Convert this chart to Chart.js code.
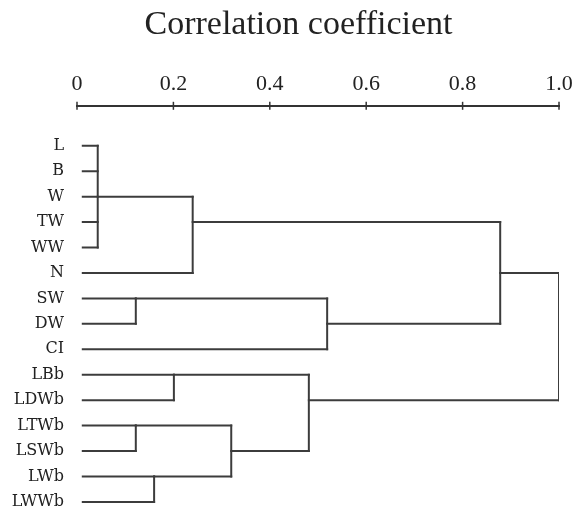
<!DOCTYPE html>
<html>
<head>
<meta charset="utf-8">
<script src="https://cdn.jsdelivr.net/npm/chart.js@4"></script>
<style>
  html, body { margin: 0; background: #fff; }
  #wrap { width: 576px; height: 511px; }
</style>
</head>
<body>
<div id="wrap"><canvas id="dendro"></canvas></div>
<script>
// leaves, top to bottom
const leaves = ['L', 'B', 'W', 'TW', 'WW', 'N', 'SW', 'DW', 'CI', 'LBb', 'LDWb', 'LTWb', 'LSWb', 'LWb', 'LWWb'];
const leafStart = 0.012;

// merges, in order; children are leaf names or earlier merge names
const clusterNames = ['n1', 'n2', 'n3', 'n4', 'n5', 'n6', 'n7', 'n8', 'n9', 'n10', 'n11'];
const clusterChildren = [
  ['L', 'B', 'W', 'TW', 'WW'],
  ['n1', 'N'],
  ['SW', 'DW'],
  ['n3', 'CI'],
  ['n2', 'n4'],
  ['LBb', 'LDWb'],
  ['LTWb', 'LSWb'],
  ['LWb', 'LWWb'],
  ['n7', 'n8'],
  ['n6', 'n9'],
  ['n5', 'n10']
];
const clusterHeights = [0.043, 0.240, 0.122, 0.519, 0.878, 0.201, 0.122, 0.160, 0.320, 0.481, 1.0];

const xTicks = [0, 0.2, 0.4, 0.6, 0.8, 1.0];
const xTickLabels = ['0', '0.2', '0.4', '0.6', '0.8', '1.0'];

// build the bracket segments
const row = {}, height = {};
leaves.forEach((name, i) => { row[name] = i; height[name] = leafStart; });
const segments = [];
clusterNames.forEach((name, k) => {
  const kids = clusterChildren[k];
  const h = clusterHeights[k];
  const rows = kids.map(c => row[c]);
  kids.forEach(c => segments.push([{ x: height[c], y: row[c] }, { x: h, y: row[c] }]));
  const lo = Math.min(...rows), hi = Math.max(...rows);
  segments.push([{ x: h, y: lo }, { x: h, y: hi }]);
  row[name] = Math.floor((lo + hi) / 2);
  height[name] = h;
});

const lineColor = '#3c3c3c';

// small marks crossing the top axis line
const tickMarks = {
  id: 'tickMarks',
  afterLayout(chart) {
    // title sits a little right of the page centre
    if (chart.titleBlock) chart.titleBlock.left += 38;
  },
  afterDraw(chart) {
    const s = chart.scales.x, ctx = chart.ctx;
    ctx.save();
    ctx.strokeStyle = '#333';
    ctx.lineWidth = 1.5;
    s.ticks.forEach(t => {
      const px = s.getPixelForValue(t.value);
      ctx.beginPath();
      ctx.moveTo(px, s.bottom - 4);
      ctx.lineTo(px, s.bottom + 4);
      ctx.stroke();
    });
    ctx.restore();
  }
};

const noPad = s => { s.paddingLeft = s.paddingRight = s.paddingTop = s.paddingBottom = 0; };

new Chart(document.getElementById('dendro'), {
  type: 'scatter',
  data: {
    datasets: segments.map(seg => ({
      data: seg,
      showLine: true,
      borderColor: lineColor,
      borderWidth: 2,
      borderCapStyle: 'square',
      pointRadius: 0,
      pointHoverRadius: 0,
      fill: false
    }))
  },
  options: {
    responsive: true,
    maintainAspectRatio: false,
    animation: false,
    layout: { padding: { left: 0, right: 17, top: 0, bottom: 3 } },
    plugins: {
      legend: { display: false },
      tooltip: { enabled: false },
      title: {
        display: true,
        text: 'Correlation coefficient',
        color: '#222',
        font: { family: 'Liberation Serif', size: 34, weight: 'normal' },
        padding: { top: 5, bottom: 23 }
      }
    },
    scales: {
      x: {
        type: 'linear',
        position: 'top',
        min: 0,
        max: 1,
        afterBuildTicks: s => { s.ticks = xTicks.map(v => ({ value: v })); },
        afterFit: s => { s.height = 37; noPad(s); },
        ticks: {
          callback: (v, i) => xTickLabels[i],
          color: '#222',
          font: { family: 'Liberation Serif', size: 22 },
          padding: 8,
          maxRotation: 0
        },
        grid: { display: false, drawTicks: false },
        border: { display: true, color: '#333', width: 2 }
      },
      y: {
        type: 'linear',
        reverse: true,
        min: -1.573,
        max: 14.24,
        afterBuildTicks: s => { s.ticks = leaves.map((_, i) => ({ value: i })); },
        afterFit: s => { s.width = 77; noPad(s); },
        ticks: {
          callback: v => leaves[v],
          color: '#222',
          font: { family: 'DejaVu Serif', size: 16 },
          padding: 13
        },
        grid: { display: false, drawTicks: false },
        border: { display: false }
      }
    }
  },
  plugins: [tickMarks]
});
</script>
</body>
</html>
